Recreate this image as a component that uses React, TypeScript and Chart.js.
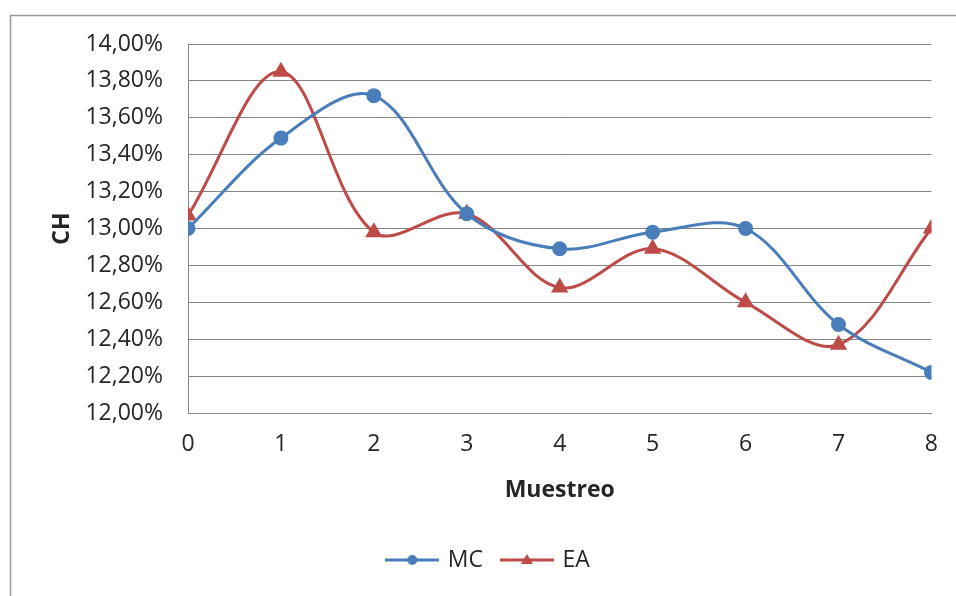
import React, { useEffect, useRef } from "react";
import { Chart, registerables } from "chart.js";

Chart.register(...registerables);

const muestreo = [0, 1, 2, 3, 4, 5, 6, 7, 8];
const mcValues = [13.0, 13.49, 13.72, 13.08, 12.89, 12.98, 13.0, 12.48, 12.22];
const eaValues = [13.07, 13.85, 12.98, 13.08, 12.68, 12.89, 12.6, 12.37, 13.0];
const seriesNames = ["MC", "EA"];
const seriesColors = ["#4A7EBB", "#BE4B48"];
const yTitle = "CH";
const xTitle = "Muestreo";

const FONT = "'Open Sans', 'Liberation Sans', sans-serif";
const TEXT = "#262626";

function legendIcon(color: string, style: "circle" | "triangle"): HTMLCanvasElement {
  const c = document.createElement("canvas");
  c.width = 54;
  c.height = 16;
  const ctx = c.getContext("2d")!;
  ctx.strokeStyle = color;
  ctx.lineWidth = 3;
  ctx.beginPath();
  ctx.moveTo(0, 8);
  ctx.lineTo(54, 8);
  ctx.stroke();
  ctx.fillStyle = color;
  ctx.beginPath();
  if (style === "circle") {
    ctx.arc(27, 8, 5, 0, Math.PI * 2);
  } else {
    ctx.moveTo(27, 2);
    ctx.lineTo(33, 12);
    ctx.lineTo(21, 12);
    ctx.closePath();
  }
  ctx.fill();
  return c;
}

export default function App() {
  const ref = useRef<HTMLCanvasElement | null>(null);

  useEffect(() => {
    document.body.style.margin = "0";
    const canvas = ref.current!;
    const icons = [legendIcon(seriesColors[0], "circle"), legendIcon(seriesColors[1], "triangle")];

    const framePlugin = {
      id: "frame",
      beforeDraw(chart: any) {
        const ctx = chart.ctx;
        ctx.save();
        ctx.fillStyle = "#ffffff";
        ctx.fillRect(0, 0, chart.width, chart.height);
        ctx.strokeStyle = "#9a9a9a";
        ctx.lineWidth = 1.5;
        ctx.beginPath();
        ctx.moveTo(10.5, chart.height);
        ctx.lineTo(10.5, 15.5);
        ctx.lineTo(chart.width, 15.5);
        ctx.stroke();
        ctx.restore();
      },
    };

    const chart = new Chart(canvas, {
      type: "line",
      data: {
        datasets: [
          {
            label: seriesNames[0],
            data: muestreo.map((x, i) => ({ x, y: mcValues[i] })),
            borderColor: seriesColors[0],
            backgroundColor: seriesColors[0],
            borderWidth: 3,
            pointStyle: "circle",
            pointRadius: 6,
            pointHoverRadius: 6,
            tension: 0.35,
          },
          {
            label: seriesNames[1],
            data: muestreo.map((x, i) => ({ x, y: eaValues[i] })),
            borderColor: seriesColors[1],
            backgroundColor: seriesColors[1],
            borderWidth: 3,
            pointStyle: "triangle",
            pointRadius: 7,
            pointHoverRadius: 7,
            tension: 0.35,
          },
        ],
      },
      options: {
        animation: false,
        responsive: false,
        maintainAspectRatio: false,
        layout: { padding: { left: 45, right: 23, top: 44, bottom: 14.5 } },
        scales: {
          x: {
            type: "linear",
            min: 0,
            max: 8,
            ticks: {
              stepSize: 1,
              padding: 18,
              color: TEXT,
              font: { family: FONT, size: 23 },
            },
            grid: { display: false, drawTicks: false },
            border: { display: true, color: "#868686", width: 1 },
            title: {
              display: true,
              text: xTitle,
              color: TEXT,
              font: { family: FONT, size: 23, weight: "bold" },
              padding: { top: 4, bottom: 24.7 },
            },
            afterFit: (scale: any) => {
              scale.height = 115.5;
            },
          },
          y: {
            min: 12,
            max: 14,
            ticks: {
              stepSize: 0.2,
              padding: 25,
              color: TEXT,
              font: { family: FONT, size: 23 },
              callback: (v: any) => Number(v).toFixed(2).replace(".", ",") + "%",
            },
            grid: { color: "#868686", lineWidth: 1, drawTicks: false },
            border: { display: true, color: "#868686", width: 1 },
            title: {
              display: true,
              text: yTitle,
              color: TEXT,
              font: { family: FONT, size: 23, weight: "bold" },
              padding: { top: 4, bottom: 4 },
            },
            afterFit: (scale: any) => {
              scale.width = 143;
            },
          },
        },
        plugins: {
          tooltip: { enabled: false },
          legend: {
            position: "bottom",
            labels: {
              usePointStyle: true,
              pointStyleWidth: 48,
              padding: 20,
              color: TEXT,
              font: { family: FONT, size: 23 },
              generateLabels: (ch: any) =>
                ch.data.datasets.map((ds: any, i: number) => ({
                  text: ds.label,
                  pointStyle: icons[i],
                  fillStyle: ds.backgroundColor,
                  strokeStyle: ds.borderColor,
                  lineWidth: 0,
                  hidden: false,
                  datasetIndex: i,
                  fontColor: TEXT,
                })),
            },
          },
        },
      },
      plugins: [framePlugin],
    } as any);

    return () => chart.destroy();
  }, []);

  return (
    <div style={{ width: 956, height: 596 }}>
      <canvas ref={ref} width={956} height={596} style={{ display: "block", width: 956, height: 596 }} />
    </div>
  );
}
